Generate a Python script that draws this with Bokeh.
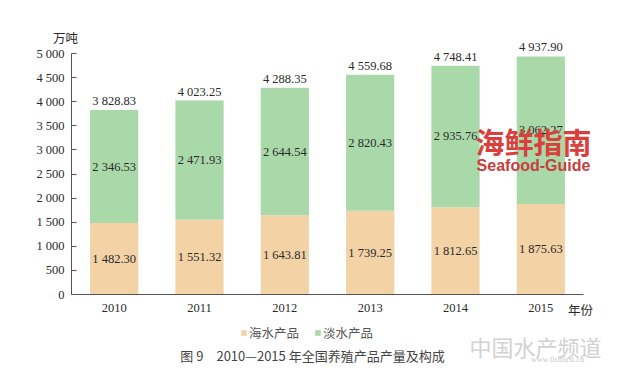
from bokeh.plotting import figure
from bokeh.models import (ColumnDataSource, FactorRange, Range1d, LabelSet, Label,
                          Legend, LegendItem, FixedTicker)
from bokeh.core.properties import value
from bokeh.embed import file_html
from bokeh.resources import INLINE

# ---- data ----
years = ["2010", "2011", "2012", "2013", "2014", "2015"]
marine = [1482.30, 1551.32, 1643.81, 1739.25, 1812.65, 1875.63]
freshwater = [2346.53, 2471.93, 2644.54, 2820.43, 2935.76, 3062.27]
totals = [3828.83, 4023.25, 4288.35, 4559.68, 4748.41, 4937.90]
series_names = ["海水产品", "淡水产品"]
y_ticks = [0, 500, 1000, 1500, 2000, 2500, 3000, 3500, 4000, 4500, 5000]
y_tick_labels = ["0", "500", "1 000", "1 500", "2 000", "2 500", "3 000",
                 "3 500", "4 000", "4 500", "5 000"]
unit_text = "万吨"
x_title = "年份"
caption = "图 9　2010—2015 年全国养殖产品产量及构成"

# ---- layout (pixels in figure coordinates) ----
W, H = 624, 366
AX_X0, AX_X1 = 71, 583       # pixel columns of x-axis start / end
Y0_PX, YTOP_PX = 294, 53     # pixel rows of value 0 and value 5000
N = len(years)
UX = (AX_X1 - AX_X0) / N     # px per category
PAD = (W - AX_X1) / UX       # factor padding each side
BL = int(round(AX_X0 - PAD * UX))
BR = W - int(round(AX_X1 + PAD * UX))
AX_TOP = 5000
UY = (Y0_PX - YTOP_PX) / AX_TOP
YMAX = Y0_PX / UY
YMIN = -(H - Y0_PX) / UY

C_MARINE = "#F3D2A6"
C_FRESH = "#A9D9A9"
SERIF = "Liberation Serif"
CJK = "Noto Sans CJK SC"


def xd(fx):
    return (fx - AX_X0) / UX


def yd(fy):
    return (Y0_PX - fy) / UY


def fmt(v):
    return f"{v:,.2f}".replace(",", " ")


src = ColumnDataSource(dict(
    year=years,
    marine=marine,
    fresh=freshwater,
    marine_mid=[m / 2 for m in marine],
    fresh_mid=[m + f / 2 for m, f in zip(marine, freshwater)],
    total=totals,
    marine_txt=[fmt(v) for v in marine],
    fresh_txt=[fmt(v) for v in freshwater],
    total_txt=[fmt(v) for v in totals],
))

p = figure(width=W, height=H,
           x_range=FactorRange(*years, range_padding=PAD,
                               range_padding_units="absolute"),
           y_range=Range1d(YMIN, YMAX), output_backend="svg",
           toolbar_location=None, min_border_left=BL, min_border_right=max(BR, 0),
           min_border_top=0, min_border_bottom=0)
p.outline_line_color = None
p.xgrid.grid_line_color = None
p.ygrid.grid_line_color = None
p.background_fill_color = "white"

rs = p.vbar_stack(["marine", "fresh"], x="year", width=0.565,
                  color=[C_MARINE, C_FRESH], line_color=None, source=src)

# axes (kept inside the frame, crossing at value 0 / first category edge)
p.xaxis.fixed_location = 0
p.yaxis.fixed_location = 0
p.yaxis.bounds = (0, AX_TOP)
p.xaxis.bounds = (0, N)
p.yaxis.ticker = FixedTicker(ticks=y_ticks)
p.yaxis.major_label_overrides = {t: l for t, l in zip(y_ticks, y_tick_labels)}
p.yaxis.major_tick_in = 5
p.yaxis.major_tick_out = 0
p.yaxis.minor_tick_line_color = None
p.yaxis.major_label_standoff = 7
for ax in (p.xaxis, p.yaxis):
    ax.axis_line_color = "#555555"
    ax.major_tick_line_color = "#555555"
    ax.major_label_text_font = SERIF
    ax.major_label_text_font_size = "12.5px"
    ax.major_label_text_color = "#2a2a2a"
p.xaxis.major_tick_in = 0
p.xaxis.major_tick_out = 0
p.xaxis.major_label_standoff = 9

# value labels
lab_kw = dict(source=src, text_font=value(SERIF), text_font_size="12.5px",
              text_color="#2a2a2a", text_align="center")
p.add_layout(LabelSet(x="year", y="marine_mid", text="marine_txt",
                      text_baseline="middle", **lab_kw))
p.add_layout(LabelSet(x="year", y="fresh_mid", text="fresh_txt",
                      text_baseline="middle", **lab_kw))
p.add_layout(LabelSet(x="year", y="total", text="total_txt",
                      text_baseline="bottom", y_offset=2, **lab_kw))

# unit, axis title, caption
p.add_layout(Label(x=xd(65), y=yd(37), text=unit_text, text_font=CJK,
                   text_font_size="12.5px", text_color="#2a2a2a",
                   text_align="center", text_baseline="middle"))
p.add_layout(Label(x=xd(580), y=yd(309), text=x_title, text_font=CJK,
                   text_font_size="12.5px", text_color="#2a2a2a",
                   text_align="center", text_baseline="middle"))
p.add_layout(Label(x=xd(312), y=yd(355), text=caption, text_font=CJK,
                   text_font_size="13px", text_color="#444444",
                   text_align="center", text_baseline="middle"))

# watermarks
p.add_layout(Label(x=xd(533), y=yd(140), text="海鲜指南", text_font=CJK,
                   text_font_size="29px", text_font_style="bold",
                   text_color="#D9403C", text_align="center",
                   text_baseline="middle"))
p.add_layout(Label(x=xd(533), y=yd(165), text="Seafood-Guide",
                   text_font="Liberation Sans", text_font_size="16px",
                   text_font_style="bold", text_color="#C8403E",
                   text_align="center", text_baseline="middle"))
p.add_layout(Label(x=xd(535), y=yd(345), text="中国水产频道", text_font=CJK,
                   text_font_size="22px", text_color="#D2D2D2",
                   text_align="center", text_baseline="middle"))
p.add_layout(Label(x=xd(557), y=yd(359), text="www.fishfirst.cn",
                   text_font=SERIF, text_font_size="8px", text_color="#C8C8C8",
                   text_align="center", text_baseline="middle"))

# legend
legend = Legend(items=[LegendItem(label=series_names[0], renderers=[rs[0]]),
                       LegendItem(label=series_names[1], renderers=[rs[1]])],
                location=(240 - BL, 24), orientation="horizontal",
                padding=0, margin=0, spacing=15, label_standoff=2,
                glyph_width=7, glyph_height=7, border_line_color=None,
                background_fill_alpha=0, label_text_font=CJK,
                label_text_font_size="12.5px", label_text_color="#555555",
                label_height=12)
p.add_layout(legend)

open("out.html", "w").write(file_html(p, INLINE))
